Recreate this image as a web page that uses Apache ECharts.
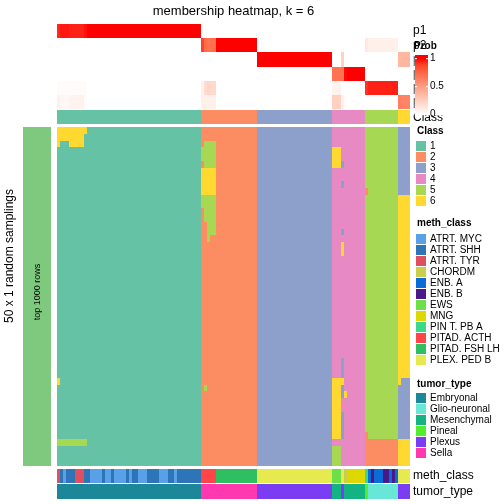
<!DOCTYPE html>
<html><head><meta charset="utf-8">
<script src="https://cdn.jsdelivr.net/npm/echarts@6/dist/echarts.min.js"></script>
<style>html,body{margin:0;padding:0;background:#fff}#c{width:504px;height:504px}</style>
</head><body><div id="c"></div>
<script>
const chartTitle = 'membership heatmap, k = 6';
const probRowNames = ['p1','p2','p3','p4','p5','p6'];
const classLevels = ['1','2','3','4','5','6'];
const classColors = ['#66C2A5','#FC8D62','#8DA0CB','#E78AC3','#A6D854','#FFD92F'];
const methLevels = ['ATRT. MYC','ATRT. SHH','ATRT. TYR','CHORDM','ENB. A','ENB. B','EWS','MNG','PIN T. PB A','PITAD. ACTH','PITAD. FSH LH','PLEX. PED B'];
const methColors = ['#58A0E8','#2E75B8','#DE4F5F','#C9CE4C','#0A6CD6','#4A1889','#6CE046','#DDD800','#3DD98A','#FF4545','#2EBF62','#E6EA4F'];
const tumorLevels = ['Embryonal','Glio-neuronal','Mesenchymal','Pineal','Plexus','Sella'];
const tumorColors = ['#1B8799','#68E6D6','#14B482','#52EE2E','#7B3DF2','#FF38B0'];
const probTicks = [1, 0.5, 0];
const probTickLabels = ['1','0.5','0'];

// membership probabilities per sample column (118 columns)
const p1 = [0.90,0.94,0.94,0.94,0.92, 0.92,0.92,0.92,0.92,0.96, 1,1,1,1,1, 1,1,1,1,1, 1,1,1,1,1, 1,1,1,1,1, 1,1,1,1,1, 1,1,1,1,1, 1,1,1,1,1, 1,1,1,
  0,0,0,0,0, 0,0,0,0,0, 0,0,0,0,0, 0,0,0,0,
  0,0,0,0,0, 0,0,0,0,0, 0,0,0,0,0, 0,0,0,0,0, 0,0,0,0,0,
  0,0,0,0,0, 0,0,0,0,0, 0,
  0,0,0,0,0, 0,0,0,0,0, 0,
  0,0,0,0];
const p2 = [0,0,0,0,0, 0,0,0,0,0, 0,0,0,0,0, 0,0,0,0,0, 0,0,0,0,0, 0,0,0,0,0, 0,0,0,0,0, 0,0,0,0,0, 0,0,0,0,0, 0,0,0,
  0.84,0.74,0.70,0.72,0.72, 1,1,1,1,1, 1,1,1,1,1, 1,1,1,1,
  0,0,0,0,0, 0,0,0,0,0, 0,0,0,0,0, 0,0,0,0,0, 0,0,0,0,0,
  0,0,0,0,0, 0,0,0,0,0, 0,
  0.12,0.08,0.08,0.08,0.08, 0.08,0.08,0.08,0.08,0.08, 0.08,
  0,0,0,0];
const p3 = [0,0,0,0,0, 0,0,0,0,0, 0,0,0,0,0, 0,0,0,0,0, 0,0,0,0,0, 0,0,0,0,0, 0,0,0,0,0, 0,0,0,0,0, 0,0,0,0,0, 0,0,0,
  0,0,0,0,0, 0,0,0,0,0, 0,0,0,0,0, 0,0,0,0,
  1,1,1,1,1, 1,1,1,1,1, 1,1,1,1,1, 1,1,1,1,1, 1,1,1,1,1,
  0,0,0,0.24,0, 0,0,0,0,0, 0,
  0,0,0,0,0, 0,0,0,0,0, 0,
  0.36,0.38,0.38,0.38];
const p4 = [0,0,0,0,0, 0,0,0,0,0, 0,0,0,0,0, 0,0,0,0,0, 0,0,0,0,0, 0,0,0,0,0, 0,0,0,0,0, 0,0,0,0,0, 0,0,0,0,0, 0,0,0,
  0,0,0,0,0, 0,0,0,0,0, 0,0,0,0,0, 0,0,0,0,
  0,0,0,0,0, 0,0,0,0,0, 0,0,0,0,0, 0,0,0,0,0, 0,0,0,0,0,
  0.70,0.70,0.70,0.70,0.98, 1,1,1,1,1, 1,
  0,0,0,0,0, 0,0,0,0,0, 0,
  0,0,0,0];
const p5 = [0.02,0.02,0.02,0.02,0.02, 0.02,0.02,0.02,0.02,0.02, 0,0,0,0,0, 0,0,0,0,0, 0,0,0,0,0, 0,0,0,0,0, 0,0,0,0,0, 0,0,0,0,0, 0,0,0,0,0, 0,0,0,
  0.08,0.18,0.22,0.20,0.20, 0,0,0,0,0, 0,0,0,0,0, 0,0,0,0,
  0,0,0,0,0, 0,0,0,0,0, 0,0,0,0,0, 0,0,0,0,0, 0,0,0,0,0,
  0.06,0.06,0.06,0,0, 0,0,0,0,0, 0,
  0.88,0.92,0.92,0.92,0.92, 0.92,0.92,0.92,0.92,0.92, 0.92,
  0,0,0,0];
const p6 = [0.08,0.04,0.04,0.04,0.06, 0.06,0.06,0.06,0.06,0.02, 0,0,0,0,0, 0,0,0,0,0, 0,0,0,0,0, 0,0,0,0,0, 0,0,0,0,0, 0,0,0,0,0, 0,0,0,0,0, 0,0,0,
  0.08,0.08,0.08,0.08,0.08, 0,0,0,0,0, 0,0,0,0,0, 0,0,0,0,
  0,0,0,0,0, 0,0,0,0,0, 0,0,0,0,0, 0,0,0,0,0, 0,0,0,0,0,
  0.24,0.24,0.24,0.06,0.02, 0,0,0,0,0, 0,
  0,0,0,0,0, 0,0,0,0,0, 0,
  0.64,0.62,0.62,0.62];

// consensus class per column
const classTop = '11111111 11111111 11111111 11111111 11111111 11111111|22222 2222222 2222222|33333 33333 33333 33333 33333|444 4 4 444444|5 55555 55555|6666';
// meth_class per column: a..l index into methLevels
const methClass = 'cbabbbcc cbbaaaab aabaaaab abbaaabb bbaaabba bbbbbbbb|jjjjj kkkkkkk kkkkkkk|lllll lllll lllll lllll lllll|ggg l d hhhhhh|i e f eee ff e f e|llll';
// tumor_type per column: a..f index into tumorLevels
const tumorType = 'aaaaaaaa aaaaaaaa aaaaaaaa aaaaaaaa aaaaaaaa aaaaaaaa|fffff fffffff fffffff|eeeee eeeee eeeee eeeee eeeee|ccc e c cccccc|d bbbbb bbbbb|eeee';

// 50 random samplings x 118 columns: class assigned in each sampling
const samplings = [
'66666666 66111111 11111111 11111111 11111111 11111111|22222 2222222 2222222|33333 33333 33333 33333 33333|444 4 4 444444|5 55555 55555|3333',
'66666666 61111111 11111111 11111111 11111111 11111111|22222 2222222 2222222|33333 33333 33333 33333 33333|444 4 4 444444|5 55555 55555|3333',
'61116666 61111111 11111111 11111111 11111111 11111111|25555 2222222 2222222|33333 33333 33333 33333 33333|444 4 4 444444|5 55555 55555|3333',
'11111111 11111111 11111111 11111111 11111111 11111111|55555 2222222 2222222|33333 33333 33333 33333 33333|666 4 4 444444|5 55555 55555|3333',
'11111111 11111111 11111111 11111111 11111111 11111111|55555 2222222 2222222|33333 33333 33333 33333 33333|666 4 4 444444|5 55555 55555|3333',
'11111111 11111111 11111111 11111111 11111111 11111111|25555 2222222 2222222|33333 33333 33333 33333 33333|666 3 4 444444|5 55555 55555|3333',
'11111111 11111111 11111111 11111111 11111111 11111111|66666 2222222 2222222|33333 33333 33333 33333 33333|444 4 4 444444|5 55555 55555|3333',
'11111111 11111111 11111111 11111111 11111111 11111111|66666 2222222 2222222|33333 33333 33333 33333 33333|444 4 4 444444|5 55555 55555|3333',
'11111111 11111111 11111111 11111111 11111111 11111111|66666 2222222 2222222|33333 33333 33333 33333 33333|444 3 4 444444|5 55555 55555|3333',
'11111111 11111111 11111111 11111111 11111111 11111111|66666 2222222 2222222|33333 33333 33333 33333 33333|444 4 4 444444|2 55555 55555|3333',
'11111111 11111111 11111111 11111111 11111111 11111111|55555 2222222 2222222|33333 33333 33333 33333 33333|444 4 4 444444|5 55555 55555|6666',
'11111111 11111111 11111111 11111111 11111111 11111111|55555 2222222 2222222|33333 33333 33333 33333 33333|444 4 4 444444|5 55555 55555|6666',
'11111111 11111111 11111111 11111111 11111111 11111111|25555 2222222 2222222|33333 33333 33333 33333 33333|444 4 4 444444|5 55555 55555|6666',
'11111111 11111111 11111111 11111111 11111111 11111111|25555 2222222 2222222|33333 33333 33333 33333 33333|444 4 4 444444|5 55555 55555|6666',
'11111111 11111111 11111111 11111111 11111111 11111111|22555 2222222 2222222|33333 33333 33333 33333 33333|444 4 4 444444|5 55555 55555|6666',
'11111111 11111111 11111111 11111111 11111111 11111111|22555 2222222 2222222|33333 33333 33333 33333 33333|444 3 4 444444|5 55555 55555|6666',
'11111111 11111111 11111111 11111111 11111111 11111111|22522 2222222 2222222|33333 33333 33333 33333 33333|444 4 4 444444|5 55555 55555|6666',
'11111111 11111111 11111111 11111111 11111111 11111111|22222 2222222 2222222|33333 33333 33333 33333 33333|444 6 4 444444|5 55555 55555|6666',
'11111111 11111111 11111111 11111111 11111111 11111111|22222 2222222 2222222|33333 33333 33333 33333 33333|444 6 4 444444|5 55555 55555|6666',
'11111111 11111111 11111111 11111111 11111111 11111111|22222 2222222 2222222|33333 33333 33333 33333 33333|444 4 4 444444|5 55555 55555|6666',
'11111111 11111111 11111111 11111111 11111111 11111111|22222 2222222 2222222|33333 33333 33333 33333 33333|444 4 4 444444|5 55555 55555|6666',
'11111111 11111111 11111111 11111111 11111111 11111111|22222 2222222 2222222|33333 33333 33333 33333 33333|444 4 4 444444|5 55555 55555|6666',
'11111111 11111111 11111111 11111111 11111111 11111111|22222 2222222 2222222|33333 33333 33333 33333 33333|444 4 4 444444|5 55555 55555|6666',
'11111111 11111111 11111111 11111111 11111111 11111111|22222 2222222 2222222|33333 33333 33333 33333 33333|444 4 4 444444|5 55555 55555|6666',
'11111111 11111111 11111111 11111111 11111111 11111111|22222 2222222 2222222|33333 33333 33333 33333 33333|444 4 4 444444|5 55555 55555|6666',
'11111111 11111111 11111111 11111111 11111111 11111111|22222 2222222 2222222|33333 33333 33333 33333 33333|444 4 4 444444|5 55555 55555|6666',
'11111111 11111111 11111111 11111111 11111111 11111111|22222 2222222 2222222|33333 33333 33333 33333 33333|444 4 4 444444|5 55555 55555|6666',
'11111111 11111111 11111111 11111111 11111111 11111111|22222 2222222 2222222|33333 33333 33333 33333 33333|444 4 4 444444|5 55555 55555|6666',
'11111111 11111111 11111111 11111111 11111111 11111111|22222 2222222 2222222|33333 33333 33333 33333 33333|444 4 4 444444|5 55555 55555|6666',
'11111111 11111111 11111111 11111111 11111111 11111111|22222 2222222 2222222|33333 33333 33333 33333 33333|444 4 4 444444|5 55555 55555|6666',
'11111111 11111111 11111111 11111111 11111111 11111111|22222 2222222 2222222|33333 33333 33333 33333 33333|444 4 4 444444|5 55555 55555|6666',
'11111111 11111111 11111111 11111111 11111111 11111111|22222 2222222 2222222|33333 33333 33333 33333 33333|444 4 4 444444|5 55555 55555|6666',
'11111111 11111111 11111111 11111111 11111111 11111111|22222 2222222 2222222|33333 33333 33333 33333 33333|444 4 4 444444|5 55555 55555|6666',
'11111111 11111111 11111111 11111111 11111111 11111111|22222 2222222 2222222|33333 33333 33333 33333 33333|444 4 4 444444|5 55555 55555|6666',
'11111111 11111111 11111111 11111111 11111111 11111111|22222 2222222 2222222|33333 33333 33333 33333 33333|444 3 4 444444|5 55555 55555|6666',
'11111111 11111111 11111111 11111111 11111111 11111111|22222 2222222 2222222|33333 33333 33333 33333 33333|444 3 4 444444|5 55555 55555|6666',
'11111111 11111111 11111111 11111111 11111111 11111111|22222 2222222 2222222|33333 33333 33333 33333 33333|444 3 4 444444|5 55555 55555|6666',
'61111111 11111111 11111111 11111111 11111111 11111111|22222 2222222 2222222|33333 33333 33333 33333 33333|666 6 4 444444|5 55555 55555|6333',
'11111111 11111111 11111111 11111111 11111111 11111111|25222 2222222 2222222|33333 33333 33333 33333 33333|666 3 4 444444|5 55555 55555|3333',
'11111111 11111111 11111111 11111111 11111111 11111111|22222 2222222 2222222|33333 33333 33333 33333 33333|666 3 6 444444|5 55555 55555|3333',
'11111111 11111111 11111111 11111111 11111111 11111111|22222 2222222 2222222|33333 33333 33333 33333 33333|666 4 4 444444|5 55555 55555|3333',
'11111111 11111111 11111111 11111111 11111111 11111111|22222 2222222 2222222|33333 33333 33333 33333 33333|666 4 4 444444|5 55555 55555|3333',
'11111111 11111111 11111111 11111111 11111111 11111111|22222 2222222 2222222|33333 33333 33333 33333 33333|666 3 4 444444|5 55555 55555|3333',
'11111111 11111111 11111111 11111111 11111111 11111111|22222 2222222 2222222|33333 33333 33333 33333 33333|666 3 4 444444|5 55555 55555|3333',
'11111111 11111111 11111111 11111111 11111111 11111111|22222 2222222 2222222|33333 33333 33333 33333 33333|666 3 4 444444|5 55555 55555|3333',
'11111111 11111111 11111111 11111111 11111111 11111111|22222 2222222 2222222|33333 33333 33333 33333 33333|666 3 4 444444|2 55555 55555|3333',
'55555555 55111111 11111111 11111111 11111111 11111111|22222 2222222 2222222|33333 33333 33333 33333 33333|444 4 4 444444|2 22222 22222|6666',
'11111111 11111111 11111111 11111111 11111111 11111111|22222 2222222 2222222|33333 33333 33333 33333 33333|555 4 4 444444|2 22222 22222|6666',
'11111111 11111111 11111111 11111111 11111111 11111111|22222 2222222 2222222|33333 33333 33333 33333 33333|555 4 4 444444|2 22222 22222|6666',
'11111111 11111111 11111111 11111111 11111111 11111111|22222 2222222 2222222|33333 33333 33333 33333 33333|555 4 4 444444|2 22222 22222|6666'
];

// ---------- build ----------
const N = 118;
const digits = s => s.replace(/[^0-9]/g, '').split('').map(Number);
const letters = s => s.replace(/[^a-z]/g, '').split('').map(ch => ch.charCodeAt(0) - 97);
const probs = [p1, p2, p3, p4, p5, p6];
probs.forEach((p, i) => { if (p.length !== N) throw new Error('p' + (i + 1) + ' length ' + p.length); });
const classArr = digits(classTop);
const methArr = letters(methClass);
const tumorArr = letters(tumorType);
const matrix = samplings.map(digits);
[['class', classArr], ['meth', methArr], ['tumor', tumorArr]].forEach(([n, a]) => { if (a.length !== N) throw new Error(n + ' length ' + a.length); });
matrix.forEach((r, i) => { if (r.length !== N) throw new Error('row ' + i + ' length ' + r.length); });

const cols = Array.from({length: N}, (_, i) => String(i));
const rows = Array.from({length: matrix.length}, (_, i) => String(i));

const probData = [];
probs.forEach((p, r) => p.forEach((v, c) => probData.push([c, r, v])));
const classData = classArr.map((v, c) => [c, 0, v]);
const mainData = [];
matrix.forEach((row, r) => row.forEach((v, c) => mainData.push([c, r, v])));
const methData = methArr.map((v, c) => [c, 0, v]);
const tumorData = tumorArr.map((v, c) => [c, 0, v]);

const HL = 57, HW = 353;
const grids = [
  {left: HL, top: 24, width: HW, height: 85},
  {left: HL, top: 110, width: HW, height: 14},
  {left: HL, top: 127, width: HW, height: 339},
  {left: HL, top: 469, width: HW, height: 14},
  {left: HL, top: 484, width: HW, height: 15},
  {left: 23, top: 127, width: 28, height: 339}
];
const xAxes = grids.map((g, i) => ({type: 'category', gridIndex: i, data: i === 5 ? ['0'] : cols, show: false, boundaryGap: true}));
const yAxes = grids.map((g, i) => ({type: 'category', gridIndex: i, inverse: true, show: false,
  data: i === 0 ? probRowNames : (i === 2 ? rows : ['0'])}));

// cells drawn through the axes' scales, snapped to whole pixels to avoid seams
function renderCell(params, api) {
  const c = api.coord([api.value(0), api.value(1)]);
  const s = api.size([1, 1]);
  const x0 = Math.round(c[0] - s[0] / 2), x1 = Math.round(c[0] + s[0] / 2);
  const y0 = Math.round(c[1] - s[1] / 2), y1 = Math.round(c[1] + s[1] / 2);
  return {type: 'rect', shape: {x: x0, y: y0, width: x1 - x0, height: y1 - y0},
    style: {fill: api.visual('color'), stroke: null}};
}
const datas = [probData, classData, mainData, methData, tumorData, [[0, 0, 1]]];
const series = datas.map((d, i) => ({type: 'custom', xAxisIndex: i, yAxisIndex: i, data: d,
  dimensions: ['x', 'y', 'v'], encode: {x: 0, y: 1},
  renderItem: renderCell, progressive: 0, animation: false, silent: true}));

const font = '"Liberation Sans", Arial, Helvetica, sans-serif';
function txt(x, y, text, size, o) {
  o = o || {};
  const el = {type: 'text', x: x, y: y, z: o.z || 10, silent: true,
    style: {text: text, font: (o.bold ? 'bold ' : '') + size + 'px ' + font, fill: '#000',
      align: o.align || 'left', textAlign: o.align || 'left', verticalAlign: 'middle', textVerticalAlign: 'middle'}};
  if (o.rotation != null) el.rotation = o.rotation;
  return el;
}
function sq(x, y, color) {
  return {type: 'rect', z: 10, silent: true, shape: {x: x, y: y, width: 10, height: 10}, style: {fill: color}};
}
const graphics = [];
graphics.push(txt(233.5, 11, chartTitle, 13, {align: 'center'}));
graphics.push(txt(10, 256, '50 x 1 random samplings', 12, {align: 'center', rotation: Math.PI / 2}));
graphics.push(txt(37.5, 292, 'top 1000 rows', 9, {align: 'center', rotation: Math.PI / 2, z: 20}));
// right-hand row labels
probRowNames.forEach((n, i) => graphics.push(txt(413, 24 + 85 / 6 * (i + 0.5), n, 12)));
graphics.push(txt(413, 117.5, 'Class', 12));
graphics.push(txt(413, 476, 'meth_class', 12));
graphics.push(txt(413, 491.5, 'tumor_type', 12));
// Prob colour bar (with its white legend background over the row labels)
graphics.push({type: 'rect', z: 25, silent: true, shape: {x: 414.6, y: 52.5, width: 40, height: 62.8}, style: {fill: '#fff'}});
graphics.push(txt(414, 46.5, 'Prob', 10, {bold: true, z: 26}));
const barTop = 55, barH = 60, y1 = 58.7, y0 = 114.7;
const off = v => ((y0 - (y0 - y1) * v) - barTop) / barH;
graphics.push({type: 'rect', z: 30, silent: true, shape: {x: 415, y: barTop, width: 13, height: barH},
  style: {fill: {type: 'linear', x: 0, y: 0, x2: 0, y2: 1, colorStops: [
    {offset: 0, color: '#FF0000'}, {offset: off(1), color: '#FF0000'}, {offset: off(0.9), color: '#FF3E21'},
    {offset: off(0.75), color: '#FF6746'}, {offset: off(0.5), color: '#FF9E81'},
    {offset: off(0.25), color: '#FFCFBE'}, {offset: off(0.1), color: '#FFECE5'}, {offset: 1, color: '#FFFFFF'}]}}});
probTicks.forEach((v, i) => {
  const y = y0 - (y0 - y1) * v;
  graphics.push({type: 'line', z: 31, silent: true, shape: {x1: 415, y1: y, x2: 417, y2: y}, style: {stroke: '#fff', lineWidth: 1}});
  graphics.push({type: 'line', z: 31, silent: true, shape: {x1: 426, y1: y, x2: 428, y2: y}, style: {stroke: '#fff', lineWidth: 1}});
  graphics.push(txt(430, y, probTickLabels[i], 10, {z: 32}));
});
// categorical legends
function legend(titleText, titleY, firstTop, levels, colors) {
  graphics.push(txt(417, titleY, titleText, 10, {bold: true}));
  levels.forEach((l, i) => {
    const t = firstTop + 11 * i;
    graphics.push(sq(416, t, colors[i]));
    graphics.push(txt(430, t + 5.5, l, 10));
  });
}
legend('Class', 131, 141, classLevels, classColors);
legend('meth_class', 223.5, 234, methLevels, methColors);
legend('tumor_type', 384, 393, tumorLevels, tumorColors);

const option = {
  animation: false,
  grid: grids,
  xAxis: xAxes,
  yAxis: yAxes,
  visualMap: [
    {type: 'continuous', show: false, seriesIndex: 0, dimension: 2, min: 0, max: 1,
      inRange: {color: ['#FFFFFF', '#FFCFBE', '#FF9E81', '#FF6746', '#FF0000']}},
    {type: 'piecewise', show: false, seriesIndex: [1, 2], dimension: 2,
      pieces: classLevels.map((l, i) => ({value: i + 1, color: classColors[i]}))},
    {type: 'piecewise', show: false, seriesIndex: 3, dimension: 2,
      pieces: methLevels.map((l, i) => ({value: i, color: methColors[i]}))},
    {type: 'piecewise', show: false, seriesIndex: 4, dimension: 2,
      pieces: tumorLevels.map((l, i) => ({value: i, color: tumorColors[i]}))},
    {type: 'piecewise', show: false, seriesIndex: 5, dimension: 2,
      pieces: [{value: 1, color: '#7FC97F'}]}
  ],
  series: series,
  graphic: graphics
};
const chart = echarts.init(document.getElementById('c'), null, {renderer: 'canvas'});
chart.setOption(option);
</script>
</body></html>
